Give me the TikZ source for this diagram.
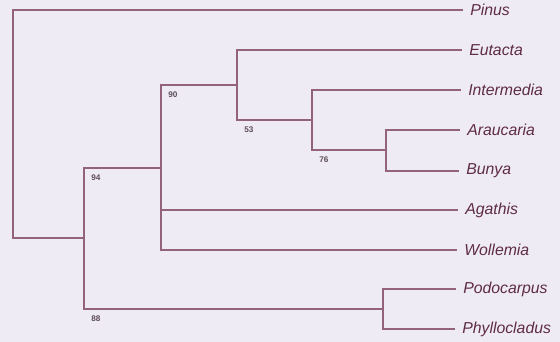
\documentclass[tikz,border=0pt]{standalone}
\usepackage{fontspec}
\setmainfont{Liberation Sans}
\usepackage{tikz}
\usetikzlibrary{positioning,backgrounds}
\definecolor{paper}{HTML}{EFEBF5}
\definecolor{branch}{HTML}{93637A}
\definecolor{taxon}{HTML}{5E2C45}
\definecolor{support}{HTML}{5E4E56}

\begin{document}
\begin{tikzpicture}[x=0.03cm, y=-0.03cm, line width=1pt,
  clade/.style={draw=branch},
  leaf/.style={anchor=west, inner sep=0pt, xshift=0.2cm, text=taxon, font=\itshape\fontsize{13.5}{15}\selectfont},
  boot/.style={anchor=north west, inner sep=0pt, xshift=0.2cm, yshift=-0.18cm, text=support, font=\bfseries\fontsize{7}{9}\selectfont}]
\fill[paper] (0,0) rectangle (560,342);
\useasboundingbox (0,0) rectangle (560,342);
% taxa
\node[leaf] (pin) at (463,10)  {Pinus};
\node[leaf] (eut) at (462,50)  {Eutacta};
\node[leaf] (int) at (461,90)  {Intermedia};
\node[leaf] (ara) at (460,130) {Araucaria};
\node[leaf] (bun) at (459,171) {Bunya};
\node[leaf] (aga) at (458,210) {Agathis};
\node[leaf] (wol) at (457,250) {Wollemia};
\node[leaf] (pod) at (456,289) {Podocarpus};
\node[leaf] (phy) at (455,329) {Phyllocladus};
% tips of the branches
\foreach \t/\x in {pin/463,eut/462,int/461,ara/460,bun/459,aga/458,wol/457,pod/456,phy/455}
  \coordinate (\t-tip) at (\x,0 |- \t.west);
% internal nodes
\coordinate (root) at (13,124);
\coordinate (n94) at (84,238);
\coordinate (n90) at (161,168);
\coordinate (n53) at (237,85);
\coordinate (n76) at (312,120);
\coordinate (nab) at (386,150);
\coordinate (n88) at (383,309);
% branches
\draw[clade] (root) |- (pin-tip);
\draw[clade] (root) |- (n94);
\draw[clade] (n94) |- (n90);
\draw[clade] (n94) |- (n88);
\draw[clade] (n90) |- (n53);
\draw[clade] (n90) |- (aga-tip);
\draw[clade] (n90) |- (wol-tip);
\draw[clade] (n53) |- (eut-tip);
\draw[clade] (n53) |- (n76);
\draw[clade] (n76) |- (int-tip);
\draw[clade] (n76) |- (nab);
\draw[clade] (nab) |- (ara-tip);
\draw[clade] (nab) |- (bun-tip);
\draw[clade] (n88) |- (pod-tip);
\draw[clade] (n88) |- (phy-tip);
% support values
\node[boot] at (n90 |- n53) {90};
\node[boot] at (n53 |- n76) {53};
\node[boot] at (n76 |- nab) {76};
\node[boot] at (n94 |- n90) {94};
\node[boot] at (n94 |- n88) {88};
\end{tikzpicture}
\end{document}
